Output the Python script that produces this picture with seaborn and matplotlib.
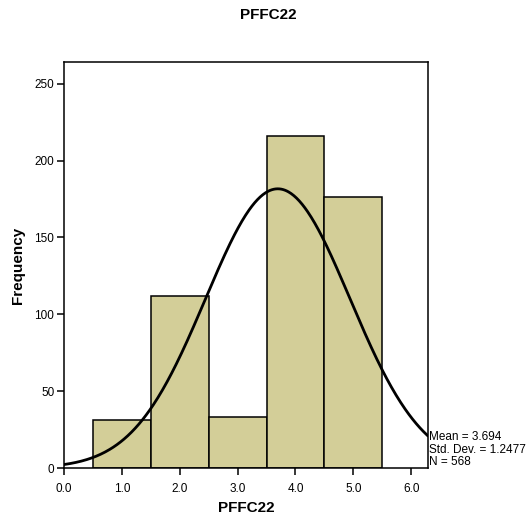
import numpy as np
import pandas as pd
import matplotlib
matplotlib.use("Agg")
import matplotlib.pyplot as plt
import seaborn as sns

# Response categories and their frequencies
categories = [1.0, 2.0, 3.0, 4.0, 5.0]
frequencies = [31, 112, 33, 216, 176]
mean_val = 3.694
std_val = 1.2477
n_val = 568
x_ticks = [0.0, 1.0, 2.0, 3.0, 4.0, 5.0, 6.0]
y_ticks = [0, 50, 100, 150, 200, 250]

sns.set_theme(style="white")
plt.rcParams["font.family"] = ["Liberation Sans", "DejaVu Sans"]
plt.rcParams["text.color"] = "black"
plt.rcParams["axes.labelcolor"] = "black"

df = pd.DataFrame({"PFFC22": categories, "count": frequencies})

fig = plt.figure(figsize=(5.32, 5.18), dpi=100)
ax = fig.add_axes([0.1203, 0.0965, 0.6842, 0.7835])

sns.histplot(data=df, x="PFFC22", weights="count", binwidth=1.0, binrange=(0.5, 5.5),
             color="#d3ce98", alpha=1.0, edgecolor="black", linewidth=1.1, ax=ax)

# Normal curve scaled to counts (bin width 1)
xs = np.linspace(0, 6.29, 400)
pdf = np.exp(-0.5 * ((xs - mean_val) / std_val) ** 2) / (std_val * np.sqrt(2 * np.pi))
ax.plot(xs, n_val * 1.0 * pdf, color="black", linewidth=2.0)

ax.set_xlim(0, 6.29)
ax.set_ylim(0, 264)
ax.set_xticks(x_ticks)
ax.set_xticklabels([f"{t:.1f}" for t in x_ticks])
ax.set_yticks(y_ticks)
ax.tick_params(axis="both", which="both", direction="out", length=5, width=1.1,
               labelsize=8.5, color="black", labelcolor="black",
               bottom=True, left=True)
ax.tick_params(axis="x", pad=6)
ax.tick_params(axis="y", pad=2)
for s in ax.spines.values():
    s.set_visible(True)
    s.set_color("black")
    s.set_linewidth(1.1)
ax.grid(False)

ax.set_xlabel("PFFC22", fontsize=11, fontweight="bold", labelpad=4, color="black")
ax.set_ylabel("Frequency", fontsize=11, fontweight="bold", labelpad=7, color="black")
fig.text(0.505, 0.971, "PFFC22", ha="center", va="center", fontsize=11,
         fontweight="bold", color="black")

ax.text(1.003, 0.09, f"Mean = {mean_val:.3f}\nStd. Dev. = {std_val:.4f}\nN = {n_val}",
        transform=ax.transAxes, ha="left", va="top", fontsize=8.5, linespacing=1.05,
        color="black")

fig.savefig("out.png", dpi=100)
